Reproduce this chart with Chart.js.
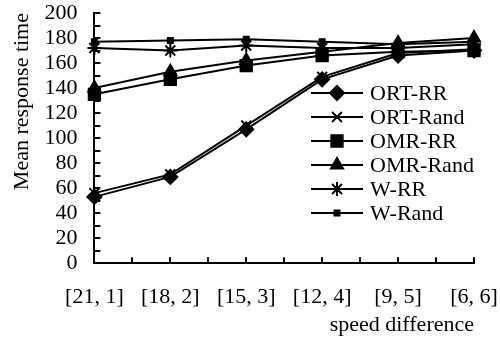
<!DOCTYPE html>
<html>
<head>
<meta charset="utf-8">
<script src="https://cdn.jsdelivr.net/npm/chart.js@4"></script>
<style>
  html, body { margin: 0; padding: 0; background: #fff; }
  #wrap { width: 500px; height: 339px; }
</style>
</head>
<body>
<div id="wrap"><canvas id="chart"></canvas></div>
<script>
// values
const categories = ['[21, 1]', '[18, 2]', '[15, 3]', '[12, 4]', '[9, 5]', '[6, 6]'];
const ortRR   = [53, 69, 107, 147, 166, 170];
const ortRand = [56, 71, 110, 149, 168, 171];
const omrRR   = [135, 147, 158, 166, 169, 170];
const omrRand = [140, 153, 162, 169, 176, 180];
const wRR     = [172, 170, 174, 172, 172, 175];
const wRand   = [177, 178, 179, 177, 175, 177];
const yTicks  = [0, 20, 40, 60, 80, 100, 120, 140, 160, 180, 200];

const font = 'Liberation Serif, Times New Roman, serif';

function series(label, data, style, radius) {
    return {
        label: label,
        data: data,
        borderColor: '#000',
        backgroundColor: '#000',
        borderWidth: 2,
        pointStyle: style,
        pointRadius: radius,
        pointBorderWidth: 2,
        pointBorderColor: '#000',
        pointBackgroundColor: '#000',
        tension: 0
    };
}

// small inner tick marks on both axes
const innerTicks = {
    id: 'innerTicks',
    afterDraw(chart) {
        const ctx = chart.ctx;
        const xs = chart.scales.x, ys = chart.scales.y;
        ctx.save();
        ctx.strokeStyle = '#000';
        ctx.lineWidth = 2;
        for (let v = 0; v <= 200; v += 10) {
            const y = Math.round(ys.getPixelForValue(v));
            ctx.beginPath();
            ctx.moveTo(xs.left, y);
            ctx.lineTo(xs.left + 6, y);
            ctx.stroke();
        }
        for (let i = 0; i <= categories.length - 1; i += 0.5) {
            const x = Math.round(xs.getPixelForValue(i));
            ctx.beginPath();
            ctx.moveTo(x, ys.bottom);
            ctx.lineTo(x, ys.bottom - 6);
            ctx.stroke();
        }
        ctx.restore();
    }
};

// legend drawn inside the plot, right side
const innerLegend = {
    id: 'innerLegend',
    afterDraw(chart) {
        const ctx = chart.ctx;
        const area = chart.chartArea;
        const x0 = area.right - 163;
        const y0 = area.top + 80;
        ctx.save();
        ctx.font = '22px ' + font;
        ctx.textBaseline = 'middle';
        ctx.textAlign = 'left';
        chart.data.datasets.forEach((ds, i) => {
            const y = y0 + i * 24;
            ctx.strokeStyle = '#000';
            ctx.fillStyle = '#000';
            ctx.lineWidth = 2;
            ctx.beginPath();
            ctx.moveTo(x0, y);
            ctx.lineTo(x0 + 52, y);
            ctx.stroke();
            Chart.helpers.drawPoint(ctx, {
                pointStyle: ds.pointStyle,
                radius: ds.pointRadius,
                rotation: 0,
                borderWidth: 2
            }, x0 + 26, y);
            ctx.fillStyle = '#000';
            ctx.fillText(ds.label, x0 + 59, y + 1);
        });
        ctx.restore();
    }
};

new Chart(document.getElementById('chart').getContext('2d'), {
    type: 'line',
    data: {
        labels: categories,
        datasets: [
            series('ORT-RR', ortRR, 'rectRot', 7),
            series('ORT-Rand', ortRand, 'crossRot', 7),
            series('OMR-RR', omrRR, 'rect', 8),
            series('OMR-Rand', omrRand, 'triangle', 7),
            series('W-RR', wRR, 'star', 7),
            series('W-Rand', wRand, 'rect', 3.5)
        ]
    },
    options: {
        responsive: true,
        maintainAspectRatio: false,
        animation: false,
        devicePixelRatio: 1,
        layout: {
            padding: { top: 0, right: 0, bottom: 0, left: 0 }
        },
        plugins: {
            legend: { display: false },
            tooltip: { enabled: false }
        },
        scales: {
            x: {
                offset: false,
                afterFit(scale) {
                    scale.paddingLeft = 0;
                    scale.paddingRight = 26;
                },
                grid: { display: false, drawTicks: false },
                border: { display: true, color: '#000', width: 2 },
                ticks: {
                    color: '#000',
                    padding: 21,
                    maxRotation: 0,
                    autoSkip: false,
                    font: { size: 22, family: font }
                },
                title: {
                    display: true,
                    text: 'speed difference',
                    align: 'end',
                    color: '#000',
                    padding: { top: -20, bottom: 1 },
                    font: { size: 22, family: font }
                }
            },
            y: {
                min: 0,
                max: 200,
                afterBuildTicks(scale) {
                    scale.ticks = yTicks.map(v => ({ value: v }));
                },
                afterFit(scale) {
                    scale.paddingTop = 13;
                    scale.paddingBottom = 0;
                },
                grid: { display: false, drawTicks: false },
                border: { display: true, color: '#000', width: 2 },
                ticks: {
                    color: '#000',
                    padding: 17,
                    autoSkip: false,
                    font: { size: 22, family: font }
                },
                title: {
                    display: true,
                    text: 'Mean response time',
                    align: 'end',
                    color: '#000',
                    padding: { top: 9, bottom: -8 },
                    font: { size: 22, family: font }
                }
            }
        }
    },
    plugins: [innerTicks, innerLegend]
});
</script>
</body>
</html>
